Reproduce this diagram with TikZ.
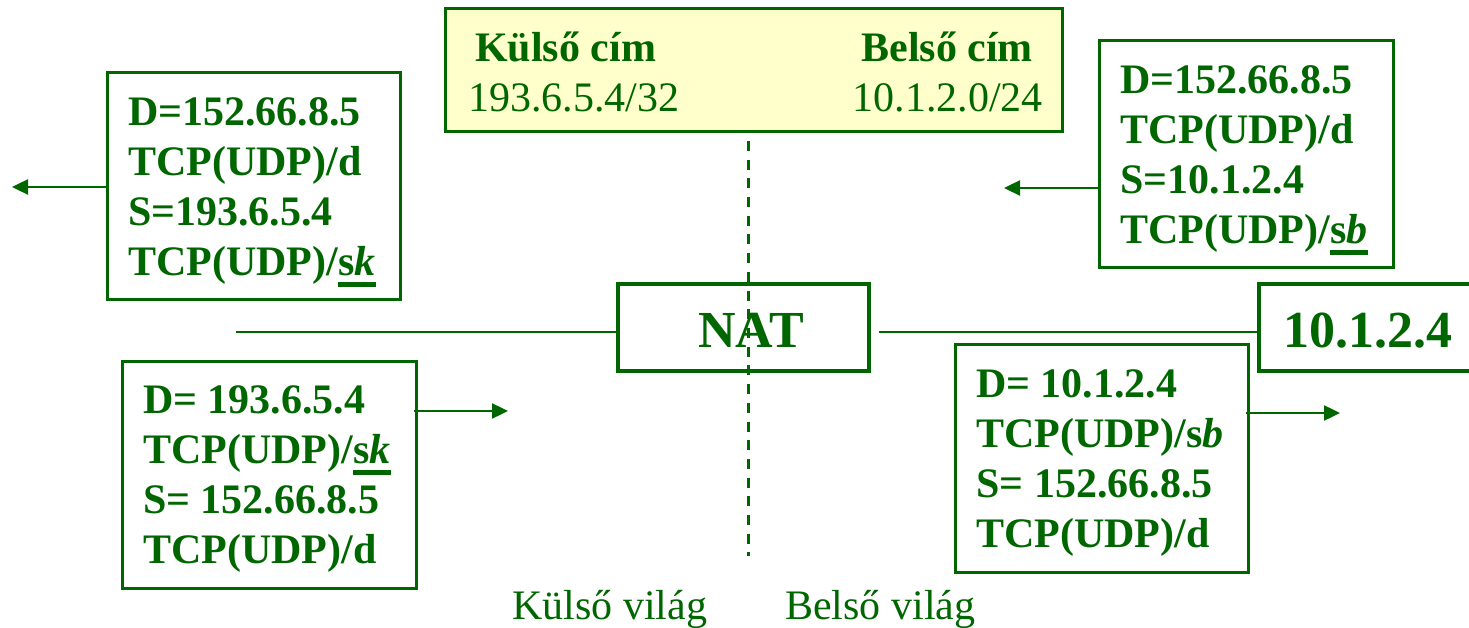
\documentclass[tikz,border=0pt]{standalone}
\usepackage{fontspec}
\setmainfont{Liberation Serif}
\usetikzlibrary{arrows.meta}
\definecolor{dg}{RGB}{0,102,0}
\definecolor{ly}{RGB}{255,255,204}
\newsavebox\ulbox
\newcommand\ulsk[1]{\sbox\ulbox{#1}\rlap{\rule[-11.5pt]{\wd\ulbox}{4.5pt}}\usebox\ulbox}
\begin{document}
\begin{tikzpicture}[x=1pt,y=-1pt,
  box/.style={draw=dg, line width=3pt, inner sep=0pt},
  bigbox/.style={draw=dg, line width=4pt, inner sep=0pt},
  txt/.style={text=dg, font=\fontsize{42}{50}\selectfont\bfseries, align=left, anchor=north west, inner sep=0pt},
  lbl/.style={text=dg, font=\fontsize{42}{50}\selectfont, inner sep=0pt},
  blbl/.style={text=dg, font=\fontsize{42}{50}\selectfont\bfseries, inner sep=0pt},
  huge/.style={text=dg, font=\fontsize{52}{60}\selectfont\bfseries, inner sep=0pt},
  conn/.style={draw=dg, line width=2.4pt},
  arr/.style={conn, -{Triangle[length=16pt,width=15pt]}}]
\useasboundingbox (0,0) rectangle (1469,628);

% top table box
\node[box, fill=ly, minimum width=617pt, minimum height=123pt] (tb) at (753.5,70.5) {};
\node[blbl, anchor=base west] (k1) at (475,62) {Külső cím};
\node[lbl, anchor=base west] (k2) at (468,112) {193.6.5.4/32};
\node[blbl, anchor=base east] (b1) at (1033,62) {Belső cím};
\node[lbl, anchor=base east] (b2) at (1043,112) {10.1.2.0/24};

% dashed divider
\coordinate (dtop) at (748,141);
\coordinate (dbot) at (748,556);
\draw[draw=dg, line width=3pt, dash pattern=on 10pt off 8.7pt] (dtop) -- (dbot);

% NAT and host
\node[bigbox, minimum width=251pt, minimum height=87pt] (nat) at (743.5,327.5) {};
\node[huge, anchor=base] (natt) at (751,347) {NAT};
\node[bigbox, minimum width=216pt, minimum height=87pt] (ip) at (1367,327.5) {};
\node[huge, anchor=base west] (ipt) at (1283,347) {10.1.2.4};
\coordinate (lend) at (236,332);
\draw[conn] (lend) -- (nat.west |- lend);
\draw[conn] ([xshift=8pt]nat.east |- lend) -- (ip.west |- lend);

% packet boxes
\node[box, minimum width=293pt, minimum height=226pt] (tl) at (253.5,186) {};
\node[txt] (tlt) at (128,90) {\strut D=152.66.8.5\\\strut TCP(UDP)/d\\\strut S=193.6.5.4\\\strut TCP(UDP)/\ulsk{s\textit{k}}};

\node[box, minimum width=294pt, minimum height=227pt] (tr) at (1246,154.5) {};
\node[txt] (trt) at (1120,58) {\strut D=152.66.8.5\\\strut TCP(UDP)/d\\\strut S=10.1.2.4\\\strut TCP(UDP)/\ulsk{s\textit{b}}};

\node[box, minimum width=294pt, minimum height=227pt] (lb) at (269.5,474.5) {};
\node[txt] (lbt) at (143,378) {\strut D= 193.6.5.4\\\strut TCP(UDP)/\ulsk{s\textit{k}}\\\strut S= 152.66.8.5\\\strut TCP(UDP)/d};

\node[box, minimum width=293pt, minimum height=228pt] (rb) at (1101.5,458) {};
\node[txt] (rbt) at (976,362) {\strut D= 10.1.2.4\\\strut TCP(UDP)/s\textit{b}\\\strut S= 152.66.8.5\\\strut TCP(UDP)/d};

% arrows
\coordinate (a1) at (12,187);
\draw[arr] (tl.west |- a1) -- (a1);
\coordinate (a2) at (1004,188);
\draw[arr] (tr.west |- a2) -- (a2);
\coordinate (a3) at (508,411);
\draw[arr] ([xshift=-4pt]lb.east |- a3) -- (a3);
\coordinate (a4) at (1340,413);
\draw[arr] ([xshift=-4pt]rb.east |- a4) -- (a4);

% world labels
\node[lbl, anchor=base west] (kv) at (512,619) {Külső világ};
\node[lbl, anchor=base west] (bv) at (785,619) {Belső világ};
\end{tikzpicture}
\end{document}
